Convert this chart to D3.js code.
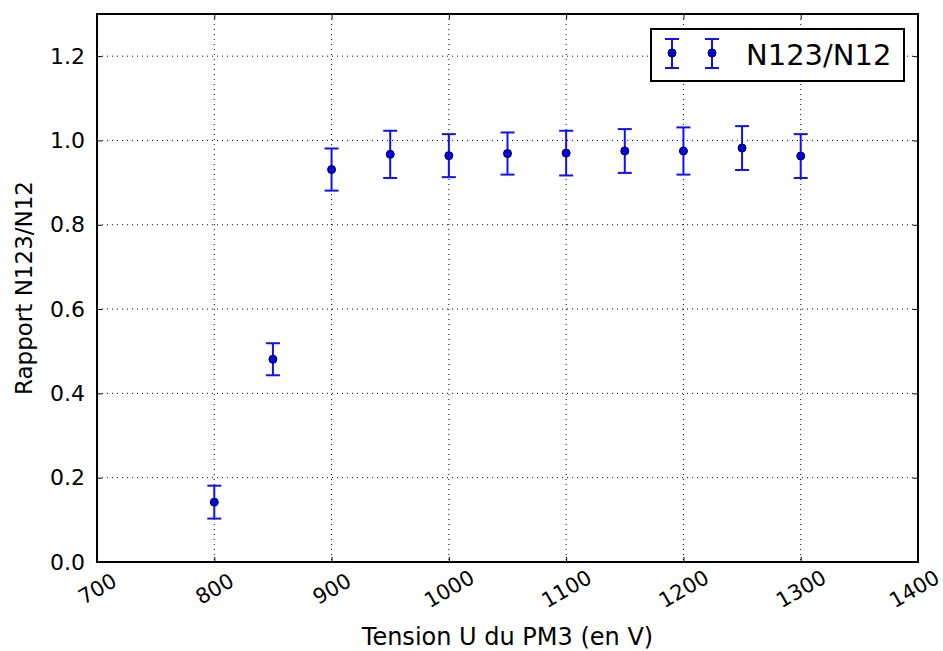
<!doctype html>
<html>
<head>
<meta charset="utf-8">
<title>N123/N12</title>
<script src="https://cdn.jsdelivr.net/npm/d3@7"></script>
<style>
  body { margin: 0; background: #fff; }
  text { font-family: "DejaVu Sans", sans-serif; }
</style>
</head>
<body>
<svg width="943" height="651"></svg>
<script>
// tension values (V) and measured ratio with uncertainty
var tension = [800, 850, 900, 950, 1000, 1050, 1100, 1150, 1200, 1250, 1300];
var rapport = [0.142, 0.481, 0.931, 0.967, 0.964, 0.969, 0.970, 0.975, 0.975, 0.982, 0.963];
var erreur = [0.039, 0.038, 0.050, 0.056, 0.051, 0.050, 0.053, 0.052, 0.056, 0.052, 0.052];
var xTicks = [700, 800, 900, 1000, 1100, 1200, 1300, 1400];
var yTicks = [0.0, 0.2, 0.4, 0.6, 0.8, 1.0, 1.2];

var margin = { left: 97, right: 25, top: 14, bottom: 89 };
var width = 943, height = 651;
var w = width - margin.left - margin.right;
var h = height - margin.top - margin.bottom;

var svg = d3.select("svg");
var g = svg.append("g").attr("transform", "translate(" + margin.left + "," + margin.top + ")");

var x = d3.scaleLinear().domain([700, 1400]).range([0, w]);
var y = d3.scaleLinear().domain([0, 1.3]).range([h, 0]);

// grid lines
g.selectAll(".gx").data(xTicks).enter().append("line")
    .attr("x1", function(d) { return x(d); }).attr("x2", function(d) { return x(d); })
    .attr("y1", 0).attr("y2", h)
    .attr("stroke", "#000").attr("stroke-width", 1).attr("stroke-dasharray", "1,4");
g.selectAll(".gy").data(yTicks).enter().append("line")
    .attr("y1", function(d) { return y(d); }).attr("y2", function(d) { return y(d); })
    .attr("x1", 0).attr("x2", w)
    .attr("stroke", "#000").attr("stroke-width", 1).attr("stroke-dasharray", "1,4");

// axes, ticks pointing inward on all four sides
var xb = g.append("g").attr("transform", "translate(0," + h + ")")
    .call(d3.axisBottom(x).tickValues(xTicks).tickFormat(d3.format("d")).tickSizeInner(-5).tickSizeOuter(0));
xb.selectAll("text")
    .style("font-size", "21px")
    .attr("text-anchor", "middle")
    .attr("dy", null)
    .attr("y", 0)
    .attr("dominant-baseline", "central")
    // last label sits against the right edge, pull it in a little
    .attr("transform", function(d) { return "translate(" + (d === 1400 ? -4 : 0) + ",27) rotate(-30)"; });
g.append("g").call(d3.axisTop(x).tickValues(xTicks).tickSizeInner(-5).tickSizeOuter(0).tickFormat(""));
var yl = g.append("g")
    .call(d3.axisLeft(y).tickValues(yTicks).tickFormat(d3.format(".1f")).tickSizeInner(-5).tickSizeOuter(0).tickPadding(12));
yl.selectAll("text").style("font-size", "22px");
g.append("g").attr("transform", "translate(" + w + ",0)")
    .call(d3.axisRight(y).tickValues(yTicks).tickSizeInner(-5).tickSizeOuter(0).tickFormat(""));
g.selectAll(".domain").remove();
g.selectAll(".tick line").attr("stroke-width", 1);

g.append("rect").attr("width", w).attr("height", h)
    .attr("fill", "none").attr("stroke", "#000").attr("stroke-width", 2);

// error bars
var pts = tension.map(function(t, i) { return { x: t, y: rapport[i], e: erreur[i] }; });
var eb = g.selectAll(".eb").data(pts).enter().append("g").attr("stroke", "#1010ff").attr("stroke-width", 2);
eb.append("line")
    .attr("x1", function(d) { return x(d.x); }).attr("x2", function(d) { return x(d.x); })
    .attr("y1", function(d) { return y(d.y - d.e); }).attr("y2", function(d) { return y(d.y + d.e); });
eb.append("line")
    .attr("x1", function(d) { return x(d.x) - 7; }).attr("x2", function(d) { return x(d.x) + 7; })
    .attr("y1", function(d) { return y(d.y + d.e); }).attr("y2", function(d) { return y(d.y + d.e); });
eb.append("line")
    .attr("x1", function(d) { return x(d.x) - 7; }).attr("x2", function(d) { return x(d.x) + 7; })
    .attr("y1", function(d) { return y(d.y - d.e); }).attr("y2", function(d) { return y(d.y - d.e); });
g.selectAll(".pt").data(pts).enter().append("circle")
    .attr("cx", function(d) { return x(d.x); }).attr("cy", function(d) { return y(d.y); })
    .attr("r", 4).attr("fill", "#0000ff").attr("stroke", "#000").attr("stroke-width", 1);

// axis labels
svg.append("text").attr("x", margin.left + w / 2).attr("y", 645)
    .attr("text-anchor", "middle").style("font-size", "24px").text("Tension U du PM3 (en V)");
svg.append("text").attr("transform", "translate(32," + (margin.top + h / 2) + ") rotate(-90)")
    .attr("text-anchor", "middle").style("font-size", "23px").text("Rapport N123/N12");

// legend
var lg = svg.append("g").attr("transform", "translate(651,29)");
lg.append("rect").attr("width", 253).attr("height", 52)
    .attr("fill", "#fff").attr("stroke", "#000").attr("stroke-width", 2);
[21, 61].forEach(function(cx) {
    var k = lg.append("g").attr("stroke", "#1010ff").attr("stroke-width", 2);
    k.append("line").attr("x1", cx).attr("x2", cx).attr("y1", 10).attr("y2", 39);
    k.append("line").attr("x1", cx - 7).attr("x2", cx + 7).attr("y1", 10).attr("y2", 10);
    k.append("line").attr("x1", cx - 7).attr("x2", cx + 7).attr("y1", 39).attr("y2", 39);
    lg.append("circle").attr("cx", cx).attr("cy", 24).attr("r", 4)
        .attr("fill", "#0000ff").attr("stroke", "#000");
});
lg.append("text").attr("x", 95).attr("y", 36).style("font-size", "29px").text("N123/N12");
</script>
</body>
</html>
